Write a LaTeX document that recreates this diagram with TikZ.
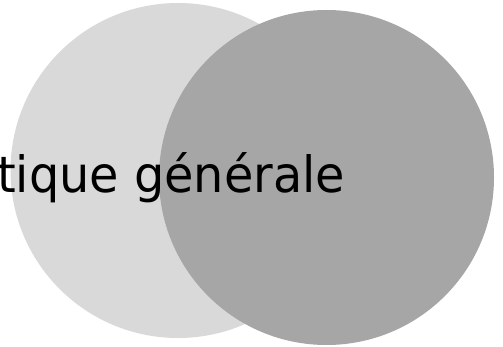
\documentclass[tikz,border=0pt]{standalone}
\usepackage{fontspec}
\usepackage{tikz}
\usetikzlibrary{positioning}
\newfontfamily\labelfont[FakeStretch=0.955]{DejaVu Sans}
\definecolor{vennlight}{RGB}{217,217,217}
\definecolor{venndark}{RGB}{166,166,166}

\begin{document}
\begin{tikzpicture}[x=1pt,y=-1pt,line cap=round,
  label text/.style={inner sep=0pt,font=\labelfont\fontsize{50}{50}\selectfont,text=black}]
 \useasboundingbox (0,0) rectangle (503,347);
 \clip (0,0) rectangle (503,347);
 \coordinate (L) at (178,170.5);
 \coordinate (R) at (326.5,177.5);
 \fill[vennlight] (L) circle[radius=167.5];
 \fill[venndark] (R) circle[radius=167.5];
 \node[label text,anchor=base west] (title) at (-3,193) {tique générale};
\end{tikzpicture}
\end{document}
